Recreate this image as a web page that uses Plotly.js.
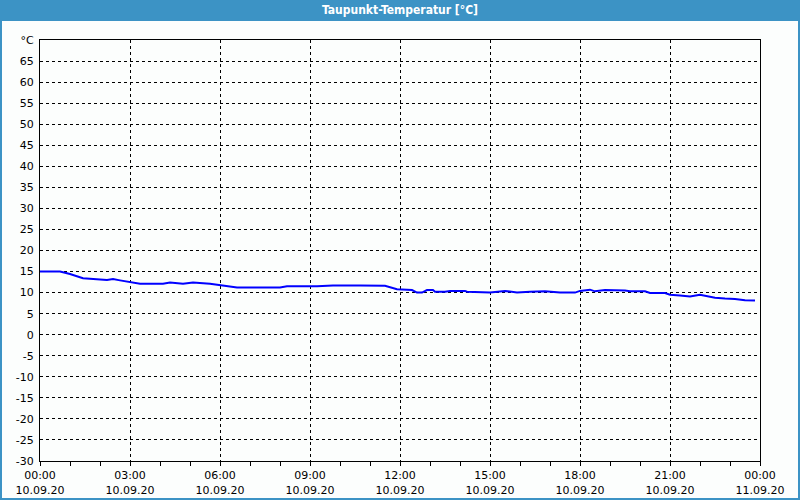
<!DOCTYPE html>
<html><head><meta charset="utf-8">
<script src="https://cdn.plot.ly/plotly-3.0.1.min.js"></script>
<style>html,body{margin:0;padding:0;background:#fcfefd;}#chart{width:800px;height:500px;}</style>
</head><body><div id="chart"></div>
<script>
const times = ["00:00","00:40","01:00","01:26","02:14","02:26","02:40","03:00","03:20","04:06","04:20","04:46","05:06","05:40","06:00","06:34","08:00","08:14","09:14","09:46","10:40","11:00","11:30","11:54","12:20","12:24","12:34","12:44","12:54","13:06","13:10","13:30","13:40","14:10","14:14","15:00","15:30","15:54","16:20","16:50","17:20","17:50","18:00","18:20","18:30","18:50","19:30","19:40","20:10","20:20","20:50","21:00","21:20","21:40","22:00","22:20","22:30","22:50","23:10","23:30","23:50"];
const dewpoint = [15.0,15.0,14.4,13.4,13.0,13.2,12.9,12.5,12.1,12.1,12.4,12.1,12.4,12.1,11.7,11.2,11.2,11.5,11.5,11.7,11.7,11.6,11.6,10.8,10.6,10.6,10.0,10.0,10.6,10.6,10.2,10.2,10.4,10.4,10.2,10.0,10.4,10.0,10.2,10.3,10.0,10.0,10.4,10.7,10.3,10.6,10.5,10.3,10.3,9.9,9.9,9.5,9.3,9.1,9.5,9.1,8.8,8.6,8.5,8.2,8.1];
const day = "2020-09-10";
const yTickVals = [-30,-25,-20,-15,-10,-5,0,5,10,15,20,25,30,35,40,45,50,55,60,65,70];
const yTickText = ["-30","-25","-20","-15","-10","-5","0","5","10","15","20","25","30","35","40","45","50","55","60","65","°C"];
const chartTitle = "Taupunkt-Temperatur [°C]";

const x = times.map(t => day + " " + t);
const blue = "#3c93c5";
const trace = {x: x, y: dewpoint, type: "scatter", mode: "lines",
  line: {color: "#0000ff", width: 2}, hoverinfo: "skip"};
const layout = {
  width: 800, height: 500,
  paper_bgcolor: "#fcfefd", plot_bgcolor: "#fcfefd",
  margin: {l: 40, r: 40, t: 40, b: 39, pad: 0},
  font: {family: "DejaVu Sans, Verdana, sans-serif", size: 11, color: "#000"},
  title: {text: "<b>" + chartTitle + "</b>", font: {color: "#ffffff", size: 12, family: "DejaVu Sans Condensed, DejaVu Sans, sans-serif"},
    x: 0.5, xanchor: "center", y: 1 - 10/500, yanchor: "middle", yref: "container"},
  showlegend: false,
  xaxis: {type: "date", range: ["2020-09-10 00:00", "2020-09-11 00:00"],
    dtick: 3*3600000, tick0: "2020-09-10 00:00", tickformat: "%H:%M<br>%d.%m.%y",
    ticks: "outside", ticklen: 4, tickcolor: "#000",
    minor: {dtick: 3600000, ticks: "outside", ticklen: 4, tickcolor: "#000", showgrid: false},
    showgrid: true, gridcolor: "#000", gridwidth: 1, griddash: "3px,3px",
    showline: true, linecolor: "#000", linewidth: 1, mirror: true,
    zeroline: false, fixedrange: true},
  yaxis: {range: [-30, 70], tickvals: yTickVals, ticktext: yTickText,
    ticks: "", ticklabelstandoff: 3,
    showgrid: true, gridcolor: "#000", gridwidth: 1, griddash: "3px,3px",
    showline: true, linecolor: "#000", linewidth: 1, mirror: true,
    zeroline: false, fixedrange: true},
  shapes: [
    {type: "rect", xref: "paper", yref: "paper", x0: -40/720, x1: 760/720, y0: 1 + 19/421, y1: 1 + 40/421,
      fillcolor: blue, line: {width: 0}, layer: "below"},
    {type: "rect", xref: "paper", yref: "paper", x0: -40/720 + 1/720, x1: 760/720 - 1/720, y0: -39/421 + 1/421, y1: 1 + 40/421,
      fillcolor: "rgba(0,0,0,0)", line: {color: blue, width: 2}, layer: "below"}
  ]
};
Plotly.newPlot("chart", [trace], layout, {displayModeBar: false, staticPlot: true});
</script></body></html>
